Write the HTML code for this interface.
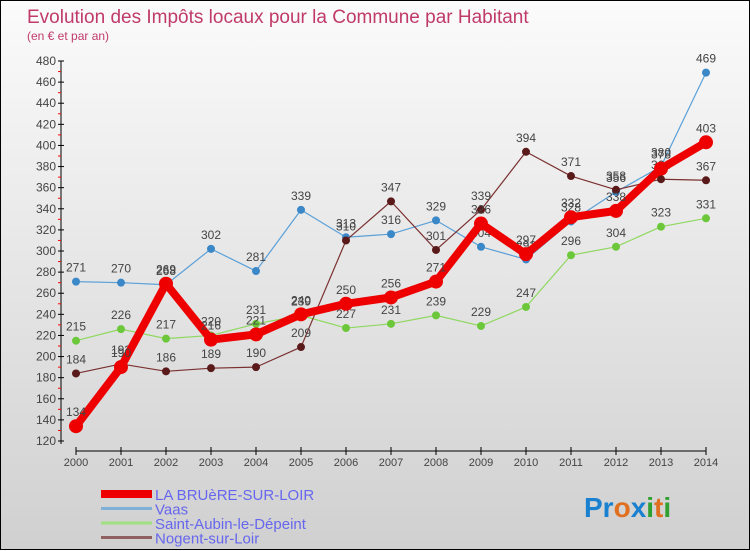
<!DOCTYPE html>
<html><head><meta charset="utf-8">
<style>
html,body{margin:0;padding:0;}
body{width:750px;height:550px;overflow:hidden;font-family:"Liberation Sans",sans-serif;}
#wrap{position:relative;width:748px;height:548px;border:1px solid #000;background:linear-gradient(#fbfbfb,#d0d0d0);}
svg{position:absolute;left:0;top:0;}
</style></head>
<body>
<div id="wrap">
<svg id="chart" width="750" height="550">
<text x="26" y="22" font-size="19" fill="#c03a6a">Evolution des Impôts locaux pour la Commune par Habitant</text>
<text x="26" y="39" font-size="12" fill="#c03a6a">(en € et par an)</text>
</svg>
</div>
<script>
const years=[2000,2001,2002,2003,2004,2005,2006,2007,2008,2009,2010,2011,2012,2013,2014];
const brueres=[134,190,269,216,221,240,250,256,271,326,297,332,338,378,403];
const vaas=[271,270,268,302,281,339,313,316,329,304,292,328,356,380,469];
const saintAubin=[215,226,217,220,231,239,227,231,239,229,247,296,304,323,331];
const nogent=[184,193,186,189,190,209,310,347,301,339,394,371,358,368,367];
const yTicks=[120,140,160,180,200,220,240,260,280,300,320,340,360,380,400,420,440,460,480];

const svg=document.getElementById('chart');
const NS='http://www.w3.org/2000/svg';
const X=i=>75+i*45;
const Y=v=>440-(v-120)*(380/360);
function mk(t,a){const e=document.createElementNS(NS,t);for(const k in a)e.setAttribute(k,a[k]);svg.appendChild(e);return e;}

// axes
let ax=mk('line',{x1:60,y1:60,x2:60,y2:443,stroke:'#000','stroke-width':1});


let xx=mk('line',{x1:75,y1:450,x2:705,y2:450,stroke:'#000','stroke-width':1});


yTicks.forEach((v,i)=>{
  mk('line',{x1:57,y1:Y(v),x2:63,y2:Y(v),stroke:'#000'});
  if(i<yTicks.length-1) mk('line',{x1:57,y1:Y(v+10),x2:60,y2:Y(v+10),stroke:'#f00'});
  const t=mk('text',{x:55,y:Y(v)+4,'font-size':12,'text-anchor':'end',fill:'#444'});
  t.textContent=v;
  
  
});
years.forEach((y,i)=>{
  mk('line',{x1:X(i),y1:446,x2:X(i),y2:454,stroke:'#000'});
  const t=mk('text',{x:X(i),y:465,'font-size':11,'text-anchor':'middle',fill:'#444'});
  t.textContent=y;
  
  
});

function series(vals,color,dot,w,r,name){
  const g=document.createElementNS(NS,'g');svg.appendChild(g);
  
  
  const p=document.createElementNS(NS,'polyline');
  p.setAttribute('points',vals.map((v,i)=>X(i)+','+Y(v)).join(' '));
  p.setAttribute('fill','none');p.setAttribute('stroke',color);p.setAttribute('stroke-width',w);p.setAttribute('stroke-linejoin','round');
  g.appendChild(p);
  vals.forEach((v,i)=>{
    const c=document.createElementNS(NS,'circle');
    c.setAttribute('cx',X(i));c.setAttribute('cy',Y(v));c.setAttribute('r',r);c.setAttribute('fill',dot);
    
    
    g.appendChild(c);
    const t=document.createElementNS(NS,'text');
    t.setAttribute('x',X(i));t.setAttribute('y',Y(v)-10);t.setAttribute('font-size',12);t.setAttribute('text-anchor','middle');t.setAttribute('fill','#444');
    t.textContent=v;
    
    
    g.appendChild(t);
  });
}
series(saintAubin,'#8fd860','#6cc83a',1.2,4,'saint-aubin-series');
series(vaas,'#5aa0d8','#3a88c8',1.2,4,'vaas-series');
series(nogent,'#7a3030','#5a1a1a',1.2,4,'nogent-series');
series(brueres,'#ee0000','#ee0000',8,7,'la-bruere-series');

// legend
const leg=[['LA BRUèRE-SUR-LOIR','#ee0000',8],['Vaas','#80b0d8',3],['Saint-Aubin-le-Dépeint','#a0e080',3],['Nogent-sur-Loir','#906060',3]];
leg.forEach((l,i)=>{
  const y=493+i*14.5;
  const ln=mk('line',{x1:100,y1:y,x2:151,y2:y,stroke:l[1],'stroke-width':l[2]});
  
  
  const t=mk('text',{x:154,y:y+6,'font-size':15,fill:'#6666ee'});
  t.textContent=l[0];
  
  
});
// logo
const logo=mk('text',{x:583,y:516,'font-size':28,'font-weight':'bold'});


[['Pr','#1a80d0'],['o','#e07020'],['x','#1a80d0'],['i','#30a030'],['t','#e07020'],['i','#30a030']].forEach(s=>{const ts=document.createElementNS(NS,'tspan');ts.setAttribute('fill',s[1]);ts.textContent=s[0];logo.appendChild(ts);});
</script>
</body></html>
